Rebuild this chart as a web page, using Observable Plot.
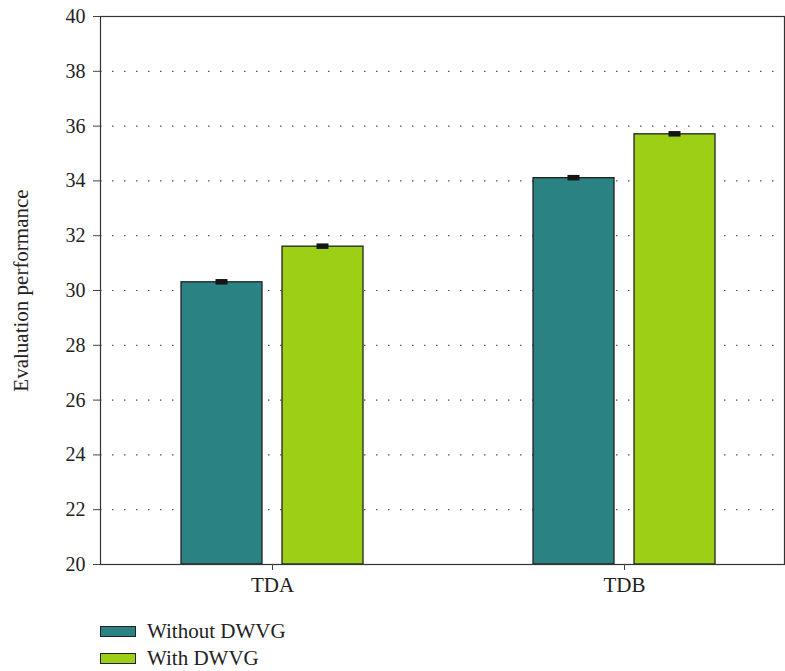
<!DOCTYPE html>
<html>
<head>
<meta charset="utf-8">
<script src="https://cdn.jsdelivr.net/npm/d3@7"></script>
<script src="https://cdn.jsdelivr.net/npm/@observablehq/plot@0.6"></script>
<style>
  body { margin: 0; background: #fff; font-family: "Liberation Serif", "DejaVu Serif", serif; }
  #chart svg { display: block; font-family: "Liberation Serif", serif; }
  .legend { margin-left: 100px; margin-top: 8px; color: #222; font-size: 21px; }
  .legend .item { display: flex; align-items: center; height: 27px; }
  .legend .sw { width: 34px; height: 9px; border: 1.5px solid #222; margin-right: 11px; }
</style>
</head>
<body>
<div id="chart"></div>
<script>
// Datasets on the x axis and the two configurations compared
const groups = ["TDA", "TDB"];
const seriesNames = ["Without DWVG", "With DWVG"];
const withoutValues = [30.3, 34.1];
const withValues = [31.6, 35.7];
const errors = [0.1, 0.1];
const yTicks = [20, 22, 24, 26, 28, 30, 32, 34, 36, 38, 40];
const yTitle = "Evaluation performance";
const colors = ["#2b8282", "#9ccf15"];

const rows = groups.flatMap((g, i) => [
  {group: g, series: seriesNames[0], value: withoutValues[i], err: errors[i]},
  {group: g, series: seriesNames[1], value: withValues[i], err: errors[i]}
]);

// Bar placement inside each group band (left / right bar)
const barInset = {
  [seriesNames[0]]: {insetLeft: 85, insetRight: 186},
  [seriesNames[1]]: {insetLeft: 186, insetRight: 85}
};
const errInset = {
  [seriesNames[0]]: {insetLeft: 119.5, insetRight: 220.5},
  [seriesNames[1]]: {insetLeft: 220.5, insetRight: 119.5}
};

const barMarks = seriesNames.flatMap((s, k) => {
  const d = rows.filter(r => r.series === s);
  return [
    Plot.rectY(d, {x: "group", y1: 20, y2: "value", fill: colors[k], stroke: "#222", strokeWidth: 1.3, ...barInset[s]}),
    Plot.rect(d, {x: "group", y1: r => r.value - r.err, y2: r => r.value + r.err, fill: "#151515", ...errInset[s]})
  ];
});

const chart = Plot.plot({
  width: 785,
  height: 610,
  marginLeft: 100,
  marginRight: 1,
  marginTop: 16,
  marginBottom: 46,
  style: {fontFamily: "Liberation Serif, serif", fontSize: "20px", color: "#222", background: "#fff"},
  x: {domain: groups, range: [96, 800], padding: 0},
  y: {domain: [20, 40]},
  marks: [
    Plot.ruleY(yTicks.slice(1, -1), {stroke: "#555", strokeWidth: 1.2, strokeDasharray: "1.5,10.5"}),
    ...barMarks,
    Plot.frame({stroke: "#333", strokeWidth: 1.2}),
    Plot.axisY(yTicks, {tickSize: 7, tickPadding: 8, fontSize: 20, label: null, stroke: "#444"}),
    Plot.axisX(groups, {tickSize: 6, tickPadding: 7, fontSize: 21, label: null, stroke: "#444"}),
    Plot.text([yTitle], {text: d => d, frameAnchor: "left", textAnchor: "middle", rotate: -90, dx: -79, fontSize: 21, fill: "#222"})
  ]
});
document.getElementById("chart").appendChild(chart);

// Legend below the chart
const legend = document.createElement("div");
legend.className = "legend";
seriesNames.forEach((s, k) => {
  const item = document.createElement("div");
  item.className = "item";
  const sw = document.createElement("span");
  sw.className = "sw";
  sw.style.background = colors[k];
  const label = document.createElement("span");
  label.textContent = s;
  item.append(sw, label);
  legend.appendChild(item);
});
document.body.appendChild(legend);
</script>
</body>
</html>
